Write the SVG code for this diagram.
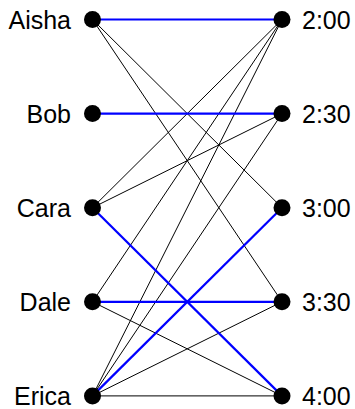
<svg xmlns="http://www.w3.org/2000/svg" width="355" height="409" viewBox="0 0 355 409">
<style>
.t{stroke:#000;stroke-width:1;fill:none}
.b{stroke:#0000ff;stroke-width:2.2;fill:none}
.n{fill:#000}
.l{font-family:"Liberation Sans",Arial,sans-serif;font-size:25px;fill:#000}
.le{text-anchor:end}
</style>
<rect width="355" height="409" fill="#fff"/>
<g id="edges">
<line class="t" x1="92.5" y1="19.5" x2="282" y2="207.7"/>
<line class="t" x1="92.5" y1="19.5" x2="282" y2="301.8"/>
<line class="t" x1="92.5" y1="207.7" x2="282" y2="19.5"/>
<line class="t" x1="92.5" y1="207.7" x2="282" y2="113.6"/>
<line class="t" x1="92.5" y1="301.8" x2="282" y2="19.5"/>
<line class="t" x1="92.5" y1="301.8" x2="282" y2="395.9"/>
<line class="t" x1="92.5" y1="395.9" x2="282" y2="19.5"/>
<line class="t" x1="92.5" y1="395.9" x2="282" y2="113.6"/>
<line class="t" x1="92.5" y1="395.9" x2="282" y2="301.8"/>
<line class="t" x1="92.5" y1="395.9" x2="282" y2="395.9"/>
<line class="b" x1="92.5" y1="19.5" x2="282" y2="19.5"/>
<line class="b" x1="92.5" y1="113.6" x2="282" y2="113.6"/>
<line class="b" x1="92.5" y1="207.7" x2="282" y2="395.9"/>
<line class="b" x1="92.5" y1="301.8" x2="282" y2="301.8"/>
<line class="b" x1="92.5" y1="395.9" x2="282" y2="207.7"/>
</g>
<g id="aisha"><circle class="n" cx="92.5" cy="19.5" r="8.5"/><text class="l le" x="71" y="28.5">Aisha</text></g>
<g id="bob"><circle class="n" cx="92.5" cy="113.6" r="8.5"/><text class="l le" x="71" y="122.6">Bob</text></g>
<g id="cara"><circle class="n" cx="92.5" cy="207.7" r="8.5"/><text class="l le" x="71" y="216.7">Cara</text></g>
<g id="dale"><circle class="n" cx="92.5" cy="301.8" r="8.5"/><text class="l le" x="71" y="310.8">Dale</text></g>
<g id="erica"><circle class="n" cx="92.5" cy="395.9" r="8.5"/><text class="l le" x="71" y="404.9">Erica</text></g>
<g id="t200"><circle class="n" cx="282" cy="19.5" r="8.5"/><text class="l" x="302" y="28.5">2:00</text></g>
<g id="t230"><circle class="n" cx="282" cy="113.6" r="8.5"/><text class="l" x="302" y="122.6">2:30</text></g>
<g id="t300"><circle class="n" cx="282" cy="207.7" r="8.5"/><text class="l" x="302" y="216.7">3:00</text></g>
<g id="t330"><circle class="n" cx="282" cy="301.8" r="8.5"/><text class="l" x="302" y="310.8">3:30</text></g>
<g id="t400"><circle class="n" cx="282" cy="395.9" r="8.5"/><text class="l" x="302" y="404.9">4:00</text></g>
</svg>
